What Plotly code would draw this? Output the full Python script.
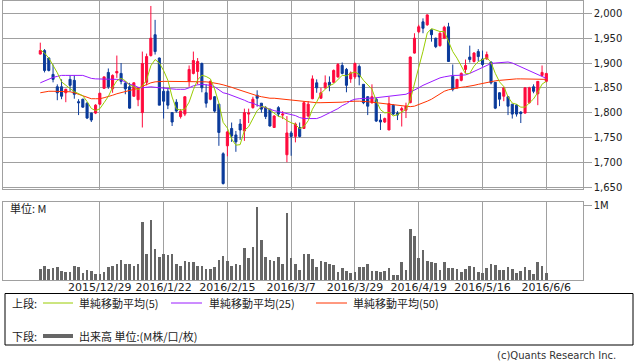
import plotly.graph_objects as go

W, H = 638, 362

tick_idx = [14, 29, 44, 59, 74, 89, 104, 119]
tick_labels = ["2015/12/29", "2016/1/22", "2016/2/15", "2016/3/7",
               "2016/3/29", "2016/4/19", "2016/5/16", "2016/6/6"]

opens = [1918, 1925, 1910, 1877, 1852, 1852, 1840, 1867, 1865, 1822,
         1827, 1819, 1799, 1799, 1817, 1849, 1881, 1848, 1880, 1879,
         1859, 1852, 1833, 1826, 1800, 1861, 1915, 1957, 1910, 1843,
         1843, 1800, 1821, 1792, 1797, 1863, 1879, 1883, 1899, 1840,
         1827, 1832, 1817, 1717, 1733, 1768, 1755, 1777, 1763, 1797,
         1810, 1835, 1819, 1810, 1807, 1770, 1810, 1795, 1715, 1759,
         1752, 1770, 1768, 1793, 1828, 1860, 1829, 1850, 1861, 1861,
         1872, 1895, 1887, 1868, 1872, 1893, 1857, 1832, 1820, 1827,
         1785, 1781, 1765, 1815, 1799, 1805, 1805, 1820, 1920, 1963,
         1983, 1977, 1967, 1950, 1935, 1950, 1973, 1873, 1850, 1865,
         1887, 1912, 1903, 1923, 1908, 1908, 1902, 1861, 1840, 1833,
         1832, 1817, 1815, 1801, 1799, 1820, 1852, 1838, 1875, 1863]
highs = [1941, 1928, 1912, 1897, 1857, 1867, 1848, 1875, 1875, 1827,
         1828, 1821, 1800, 1817, 1840, 1873, 1889, 1877, 1915, 1900,
         1863, 1860, 1861, 1851, 1923, 1919, 2015, 1987, 1911, 1852,
         1848, 1801, 1827, 1807, 1833, 1895, 1923, 1910, 1901, 1857,
         1865, 1833, 1817, 1720, 1763, 1780, 1763, 1787, 1808, 1808,
         1832, 1845, 1819, 1813, 1807, 1795, 1813, 1803, 1793, 1763,
         1780, 1780, 1823, 1823, 1875, 1867, 1850, 1875, 1873, 1887,
         1900, 1901, 1890, 1883, 1901, 1897, 1857, 1833, 1857, 1830,
         1797, 1790, 1832, 1817, 1803, 1812, 1820, 1913, 1960, 1977,
         1990, 1998, 1967, 1951, 1962, 1975, 1981, 1897, 1868, 1881,
         1907, 1935, 1922, 1928, 1925, 1923, 1903, 1861, 1841, 1852,
         1833, 1817, 1817, 1803, 1851, 1852, 1857, 1863, 1895, 1879]
lows = [1917, 1881, 1883, 1861, 1825, 1827, 1821, 1843, 1828, 1795,
        1810, 1787, 1781, 1797, 1815, 1848, 1848, 1840, 1870, 1857,
        1837, 1808, 1832, 1813, 1770, 1855, 1913, 1917, 1815, 1788,
        1807, 1773, 1800, 1788, 1793, 1852, 1877, 1857, 1841, 1810,
        1825, 1800, 1733, 1655, 1712, 1741, 1721, 1745, 1743, 1779,
        1808, 1812, 1800, 1787, 1772, 1769, 1792, 1787, 1700, 1713,
        1740, 1750, 1767, 1790, 1827, 1840, 1828, 1848, 1843, 1860,
        1870, 1877, 1841, 1860, 1868, 1855, 1817, 1795, 1818, 1781,
        1765, 1779, 1765, 1795, 1785, 1772, 1789, 1819, 1919, 1960,
        1960, 1975, 1943, 1930, 1933, 1948, 1903, 1843, 1848, 1863,
        1880, 1901, 1901, 1903, 1893, 1907, 1857, 1807, 1813, 1823,
        1795, 1788, 1792, 1779, 1798, 1818, 1839, 1815, 1873, 1861]
closes = [1925, 1885, 1885, 1867, 1840, 1833, 1847, 1855, 1837, 1820,
          1811, 1789, 1785, 1815, 1839, 1872, 1852, 1875, 1883, 1863,
          1848, 1809, 1860, 1850, 1899, 1913, 1950, 1923, 1815, 1823,
          1815, 1781, 1803, 1803, 1832, 1887, 1905, 1903, 1850, 1819,
          1863, 1803, 1760, 1657, 1761, 1753, 1741, 1765, 1800, 1799,
          1827, 1829, 1807, 1792, 1773, 1793, 1797, 1797, 1759, 1752,
          1777, 1752, 1820, 1817, 1868, 1850, 1840, 1860, 1855, 1885,
          1897, 1879, 1855, 1880, 1899, 1872, 1820, 1813, 1832, 1783,
          1781, 1788, 1818, 1797, 1795, 1808, 1813, 1912, 1950, 1973,
          1970, 1997, 1957, 1933, 1960, 1972, 1903, 1847, 1867, 1879,
          1895, 1907, 1920, 1913, 1897, 1917, 1860, 1809, 1827, 1850,
          1813, 1797, 1797, 1798, 1850, 1850, 1843, 1863, 1881, 1879]

ma5 = [1927, 1920, 1910, 1896, 1880.4, 1862.0, 1854.4, 1848.4, 1842.4, 1838.4,
       1834.0, 1822.4, 1808.4, 1804.0, 1807.8, 1820.0, 1832.6, 1850.6, 1864.2, 1869.0,
       1864.2, 1855.6, 1852.6, 1846.0, 1853.2, 1866.2, 1894.4, 1907.0, 1900.0, 1884.8,
       1865.2, 1831.4, 1807.4, 1805.0, 1806.8, 1821.2, 1846.0, 1866.0, 1875.4, 1872.8,
       1868.0, 1847.6, 1819.0, 1780.4, 1768.8, 1746.8, 1734.4, 1735.4, 1764.0, 1771.6,
       1786.4, 1804.0, 1812.4, 1810.8, 1805.6, 1798.8, 1792.4, 1790.4, 1783.8, 1779.6,
       1776.4, 1767.4, 1772.0, 1783.6, 1806.8, 1821.4, 1839.0, 1847.0, 1854.6, 1858.0,
       1867.4, 1875.2, 1874.2, 1879.2, 1882.0, 1877.0, 1865.2, 1856.8, 1847.2, 1824.0,
       1805.8, 1799.4, 1800.4, 1793.4, 1795.8, 1801.2, 1806.2, 1825.0, 1855.6, 1891.2,
       1923.6, 1960.4, 1969.4, 1966.0, 1963.4, 1963.8, 1945.0, 1923.0, 1909.8, 1893.6,
       1878.2, 1879.0, 1893.6, 1902.8, 1906.4, 1910.8, 1901.4, 1879.2, 1862.0, 1852.6,
       1831.8, 1819.2, 1816.8, 1811.0, 1811.0, 1818.4, 1827.6, 1840.8, 1857.4, 1863.2]
ma25 = [1860, 1864, 1868, 1871, 1873, 1875, 1875, 1875, 1875, 1875,
        1875, 1872, 1869, 1868, 1868, 1868, 1868, 1868, 1867, 1866,
        1861, 1857, 1855, 1851, 1850, 1851, 1852, 1851, 1850, 1850,
        1849, 1848, 1847, 1847, 1847, 1850, 1854, 1856, 1857, 1856,
        1855, 1852, 1846, 1840, 1838, 1835, 1831, 1828, 1825, 1821,
        1819, 1815, 1812, 1809, 1807, 1804, 1802, 1800, 1798, 1797,
        1794, 1790, 1788, 1788, 1788, 1788, 1791, 1795, 1799, 1804,
        1808, 1814, 1818, 1824, 1827, 1828, 1829, 1829, 1829, 1830,
        1830, 1831, 1832, 1833, 1834, 1835, 1837, 1841, 1845, 1850,
        1855, 1859, 1863, 1867, 1870, 1872, 1874, 1875, 1875, 1875,
        1876, 1879, 1883, 1888, 1892, 1896, 1899, 1900, 1901, 1901,
        1902, 1900, 1896, 1892, 1888, 1884, 1880, 1876, 1872, 1869]
ma50 = [1840, 1842, 1843, 1843, 1843, 1843, 1843, 1842, 1840, 1837,
        1834, 1831, 1828, 1828, 1828, 1830, 1832, 1835, 1838, 1840,
        1843, 1845, 1847, 1849, 1853, 1857, 1860, 1862, 1863, 1863,
        1863, 1863, 1862, 1862, 1862, 1862, 1862, 1862, 1862, 1862,
        1861, 1860, 1858, 1856, 1854, 1851, 1848, 1845, 1842, 1839,
        1836, 1834, 1832, 1830, 1829, 1829, 1828, 1827, 1827, 1826,
        1825, 1823, 1822, 1821, 1820, 1820, 1820, 1820, 1820, 1820,
        1820, 1821, 1822, 1823, 1823, 1823, 1823, 1822, 1821, 1820,
        1819, 1818, 1816, 1815, 1814, 1813, 1812, 1812, 1813, 1816,
        1820, 1823, 1827, 1832, 1837, 1843, 1846, 1848, 1849, 1851,
        1852, 1853, 1855, 1857, 1859, 1861, 1863, 1864, 1865, 1866,
        1867, 1867, 1868, 1868, 1868, 1868, 1868, 1868, 1867, 1867]

volume_m = [0.149, 0.189, 0.153, 0.167, 0.176, 0.126, 0.113, 0.113, 0.189, 0.176,
            0.099, 0.135, 0.122, 0.090, 0.081, 0.113, 0.180, 0.189, 0.216, 0.270,
            0.225, 0.216, 0.194, 0.216, 0.784, 0.351, 0.811, 0.419, 0.311, 0.351,
            0.338, 0.351, 0.216, 0.189, 0.257, 0.243, 0.243, 0.189, 0.189, 0.149,
            0.149, 0.176, 0.270, 0.324, 0.257, 0.189, 0.216, 0.203, 0.432, 0.297,
            0.446, 0.991, 0.541, 0.311, 0.270, 0.257, 0.311, 0.216, 0.910, 0.297,
            0.216, 0.135, 0.351, 0.351, 0.284, 0.176, 0.257, 0.243, 0.216, 0.203,
            0.113, 0.162, 0.122, 0.095, 0.108, 0.176, 0.176, 0.216, 0.122, 0.122,
            0.108, 0.122, 0.162, 0.068, 0.068, 0.243, 0.135, 0.689, 0.595, 0.297,
            0.405, 0.257, 0.243, 0.230, 0.135, 0.243, 0.162, 0.162, 0.149, 0.108,
            0.149, 0.189, 0.176, 0.108, 0.095, 0.162, 0.216, 0.203, 0.135, 0.135,
            0.176, 0.149, 0.095, 0.122, 0.176, 0.135, 0.081, 0.243, 0.189, 0.095]

legend_upper = ["単純移動平均(5)", "単純移動平均(25)", "単純移動平均(50)"]
legend_lower = "出来高 単位:(M株/口/枚)"

RED = "#ff0a3c"
BLUE = "#0a3a9a"
GREEN = "#99cc00"
PURPLE = "#9a1aff"
ORANGE = "#ff3300"
VOLC = "#666666"
GRID = "#a0a0a0"
TXT = "#222222"
FONT = "DejaVu Sans, Noto Sans CJK JP, sans-serif"
JFONT = "Noto Sans CJK JP, DejaVu Sans, sans-serif"

x = list(range(len(closes)))

fig = go.Figure()
fig.add_trace(go.Candlestick(
    x=x, open=opens, high=highs, low=lows, close=closes,
    increasing=dict(line=dict(color=RED, width=1), fillcolor=RED),
    decreasing=dict(line=dict(color=BLUE, width=1), fillcolor=BLUE),
    whiskerwidth=0, showlegend=False, hoverinfo="skip",
    xaxis="x", yaxis="y"))
for vals, col in [(ma50, ORANGE), (ma25, PURPLE), (ma5, GREEN)]:
    fig.add_trace(go.Scatter(x=x, y=vals, mode="lines",
                             line=dict(color=col, width=1),
                             showlegend=False, hoverinfo="skip",
                             xaxis="x", yaxis="y"))
fig.add_trace(go.Bar(x=x, y=volume_m, width=0.62, marker=dict(color=VOLC, line=dict(width=0)),
                     showlegend=False, hoverinfo="skip", xaxis="x2", yaxis="y2"))

def px(v):
    return v / W

def py(v):
    return 1 - v / H

xdom = [px(3), px(582.7)]
xr = [-8.77, 127.56]

common_x = dict(domain=xdom, range=xr, tickvals=tick_idx, showgrid=True,
                gridcolor=GRID, gridwidth=1, showline=True, mirror=True,
                linecolor=GRID, linewidth=1, zeroline=False, ticks="",
                automargin=False)

fig.update_layout(
    width=W, height=H,
    margin=dict(l=0, r=0, t=0, b=0, pad=0),
    paper_bgcolor="white", plot_bgcolor="white",
    font=dict(family=FONT, color=TXT, size=11),
    hovermode=False,
    bargap=0,
    xaxis=dict(**common_x, anchor="y", showticklabels=False,
               rangeslider=dict(visible=False)),
    yaxis=dict(domain=[py(189), py(0.5)], range=[1646, 2026], side="right",
               tickvals=list(range(1650, 2001, 50)), tickformat=",d",
               ticks="outside", ticklen=8, tickcolor=GRID,
               showgrid=True, gridcolor=GRID, showline=True, mirror=True,
               linecolor=GRID, zeroline=False, automargin=False,
               tickfont=dict(size=10, color=TXT, family=FONT)),
    xaxis2=dict(**common_x, anchor="y2", ticktext=tick_labels,
                ticklabelstandoff=-3,
                tickfont=dict(size=11, color=TXT, family=FONT)),
    yaxis2=dict(domain=[py(280), py(201.7)], range=[0, 1.058], side="right",
                tickvals=[1], ticktext=["1M"], ticks="outside", ticklen=8,
                tickcolor=GRID, showgrid=False, showline=True, mirror=True,
                linecolor=GRID, zeroline=False, automargin=False,
                tickfont=dict(size=10, color=TXT, family=FONT)),
)

shapes = []
annotations = []
annotations.append(dict(x=px(8), y=py(208), xref="paper", yref="paper",
                        text="単位: M", showarrow=False, xanchor="left", yanchor="middle",
                        font=dict(size=11, color=TXT, family=JFONT)))
shapes.append(dict(type="rect", xref="paper", yref="paper",
                   x0=px(5), x1=px(633), y0=py(345), y1=py(293.5),
                   line=dict(color="#000000", width=1), fillcolor="rgba(0,0,0,0)"))
r1, r2 = 303, 336
annotations.append(dict(x=px(10), y=py(r1), xref="paper", yref="paper", text="上段:",
                        showarrow=False, xanchor="left", yanchor="middle",
                        font=dict(size=11, color=TXT, family=JFONT)))
annotations.append(dict(x=px(10), y=py(r2), xref="paper", yref="paper", text="下段:",
                        showarrow=False, xanchor="left", yanchor="middle",
                        font=dict(size=11, color=TXT, family=JFONT)))
for (x0, x1, tx), col, lab in zip([(43, 73, 77), (171, 202, 207), (316, 347, 351)],
                                  [GREEN, PURPLE, ORANGE], legend_upper):
    shapes.append(dict(type="line", xref="paper", yref="paper",
                       x0=px(x0), x1=px(x1), y0=py(r1), y1=py(r1),
                       line=dict(color=col, width=1)))
    annotations.append(dict(x=px(tx), y=py(r1), xref="paper", yref="paper", text=lab,
                            showarrow=False, xanchor="left", yanchor="middle",
                            font=dict(size=11, color=TXT, family=JFONT)))
shapes.append(dict(type="line", xref="paper", yref="paper",
                   x0=px(43), x1=px(73), y0=py(r2), y1=py(r2),
                   line=dict(color=VOLC, width=4)))
annotations.append(dict(x=px(77), y=py(r2), xref="paper", yref="paper", text=legend_lower,
                        showarrow=False, xanchor="left", yanchor="middle",
                        font=dict(size=11, color=TXT, family=JFONT)))
annotations.append(dict(x=px(618), y=py(355), xref="paper", yref="paper",
                        text="(c)Quants Research Inc.", showarrow=False,
                        xanchor="right", yanchor="middle",
                        font=dict(size=10, color="#333333", family=FONT)))

fig.update_layout(shapes=shapes, annotations=annotations)
fig.write_html("out.html", config={"displayModeBar": False},
               post_script="document.body.style.margin='0';document.body.style.padding='0';")
